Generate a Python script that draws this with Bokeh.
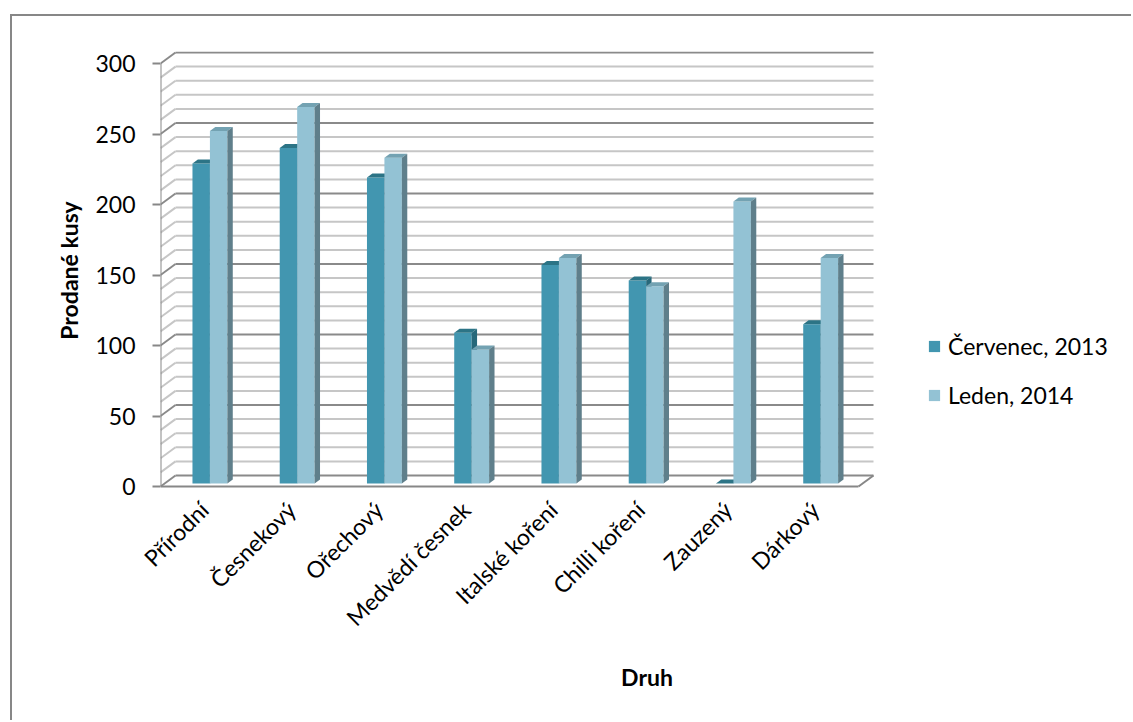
from bokeh.plotting import figure
from bokeh.models import Range1d, FixedTicker, Legend, LegendItem
from bokeh.embed import file_html
from bokeh.resources import INLINE
import math

# ---- data ----
categories = ["Přírodní", "Česnekový", "Ořechový", "Medvědí česnek",
              "Italské koření", "Chilli koření", "Zauzený", "Dárkový"]
cervenec_2013 = [227, 238, 217, 107, 155, 144, 0, 113]
leden_2014 = [250, 267, 231, 95, 160, 140, 200, 160]
series_names = ["Červenec, 2013", "Leden, 2014"]
y_major_ticks = [0, 50, 100, 150, 200, 250, 300]
y_minor_step = 10
x_title = "Druh"
y_title = "Prodané kusy"

# ---- 3D projection constants ----
N = len(categories)
PX_PER_X = 87.25
PX_PER_Y = 423 / 300
DX = 15 / PX_PER_X          # depth offset in x units
DY = 11 / PX_PER_Y          # depth offset in y units
Z0, Z1 = 0.27, 0.63         # bar front/back depth fractions
BAR_W = 0.2
BAR_START = 0.32
LABEL_SHIFT = 0.0

FONT = "Lato"
FS = "23px"
GRAY = "#878787"

# page offset of the chart area (outer border at left=10, top=14)
OFF_L, OFF_T, BW = 10, 14, 2

p = figure(width=1133 - OFF_L - BW, height=722 - OFF_T - BW,
           output_backend="svg", toolbar_location=None,
           x_range=Range1d(0, (1133 - 160) / PX_PER_X),
           y_range=Range1d(-3 / PX_PER_Y, 435 / PX_PER_Y),
           min_border_left=160 - OFF_L - BW, min_border_right=0,
           min_border_top=51 - OFF_T - BW,
           min_border_bottom=722 - 489)
p.margin = (OFF_T, 0, 0, OFF_L)
p.styles = {"border-left": f"{BW}px solid {GRAY}", "border-top": f"{BW}px solid {GRAY}"}
p.outline_line_color = None
p.xgrid.visible = False
p.ygrid.visible = False
p.background_fill_color = "white"
p.border_fill_color = "white"

# ---- walls, grid ----
minor_vals = [v for v in range(0, y_major_ticks[-1] + 1, y_minor_step) if v not in y_major_ticks]
for vals, color, w in [(minor_vals, "#c6c6c6", 2), (y_major_ticks, "#8a8a8a", 2)]:
    p.segment(x0=[DX] * len(vals), y0=[v + DY for v in vals],
              x1=[N + DX] * len(vals), y1=[v + DY for v in vals],
              line_color=color, line_width=w)
    p.segment(x0=[0] * len(vals), y0=list(vals),
              x1=[DX] * len(vals), y1=[v + DY for v in vals],
              line_color=color, line_width=w)

p.segment(x0=[0, N], y0=[0, 0], x1=[N, N + DX], y1=[0, DY],
          line_color=GRAY, line_width=2)
p.segment(x0=[0], y0=[0], x1=[0], y1=[y_major_ticks[-1]],
          line_color=GRAY, line_width=2)

# ---- bars ----
def faces(values, offset):
    fx, fy, tx, ty, sx, sy = [], [], [], [], [], []
    for i, v in enumerate(values):
        a = i + BAR_START + offset
        b = a + BAR_W
        fx.append([a + Z0 * DX, b + Z0 * DX, b + Z0 * DX, a + Z0 * DX])
        fy.append([Z0 * DY, Z0 * DY, v + Z0 * DY, v + Z0 * DY])
        tx.append([a + Z0 * DX, b + Z0 * DX, b + Z1 * DX, a + Z1 * DX])
        ty.append([v + Z0 * DY, v + Z0 * DY, v + Z1 * DY, v + Z1 * DY])
        sx.append([b + Z0 * DX, b + Z1 * DX, b + Z1 * DX, b + Z0 * DX])
        sy.append([Z0 * DY, Z1 * DY, v + Z1 * DY, v + Z0 * DY])
    return fx, fy, tx, ty, sx, sy

styles = [("#4296b0", "#2c7486", "#27687a"), ("#93c2d4", "#73a2b2", "#5f7f8b")]
front_renderers = []
for k, (vals, (cf, ct, cs)) in enumerate(zip([cervenec_2013, leden_2014], styles)):
    fx, fy, tx, ty, sx, sy = faces(vals, k * BAR_W)
    r = p.patches(xs=fx, ys=fy, fill_color=cf, line_color=None)
    p.patches(xs=tx, ys=ty, fill_color=ct, line_color=None)
    p.patches(xs=sx, ys=sy, fill_color=cs, line_color=None)
    front_renderers.append(r)

# ---- axes ----
yax = p.yaxis[0]
yax.ticker = FixedTicker(ticks=y_major_ticks)
yax.axis_line_color = None
yax.major_tick_line_color = GRAY
yax.major_tick_line_width = 2
yax.major_tick_out = 8
yax.major_tick_in = 0
yax.minor_tick_line_color = None
yax.major_label_text_font = FONT
yax.major_label_text_font_size = FS
yax.major_label_text_color = "black"
yax.major_label_standoff = 17
yax.axis_label = y_title
yax.axis_label_text_font = FONT
yax.axis_label_text_font_size = FS
yax.axis_label_text_font_style = "bold"
yax.axis_label_text_color = "black"
yax.axis_label_standoff = 9

xax = p.xaxis[0]
tick_pos = [i + 0.5 + LABEL_SHIFT for i in range(N)]
xax.ticker = FixedTicker(ticks=tick_pos)
xax.major_label_overrides = {t: c for t, c in zip(tick_pos, categories)}
xax.major_label_orientation = math.pi / 4
xax.axis_line_color = None
xax.major_tick_line_color = None
xax.minor_tick_line_color = None
xax.major_label_text_font = FONT
xax.major_label_text_font_size = FS
xax.major_label_text_color = "black"
xax.major_label_standoff = 10
xax.axis_label = x_title
xax.axis_label_text_font = FONT
xax.axis_label_text_font_size = FS
xax.axis_label_text_font_style = "bold"
xax.axis_label_text_color = "black"
xax.axis_label_standoff = 19

# ---- legend ----
legend = Legend(items=[LegendItem(label=n, renderers=[r]) for n, r in zip(series_names, front_renderers)],
                location=(767, 80), glyph_width=14, glyph_height=14, label_height=14,
                spacing=21, padding=0, margin=0, label_standoff=7,
                label_text_font=FONT, label_text_font_size=FS, label_text_color="black",
                border_line_color=None, background_fill_alpha=0)
p.add_layout(legend, "center")

open("out.html", "w").write(file_html(p, INLINE))
